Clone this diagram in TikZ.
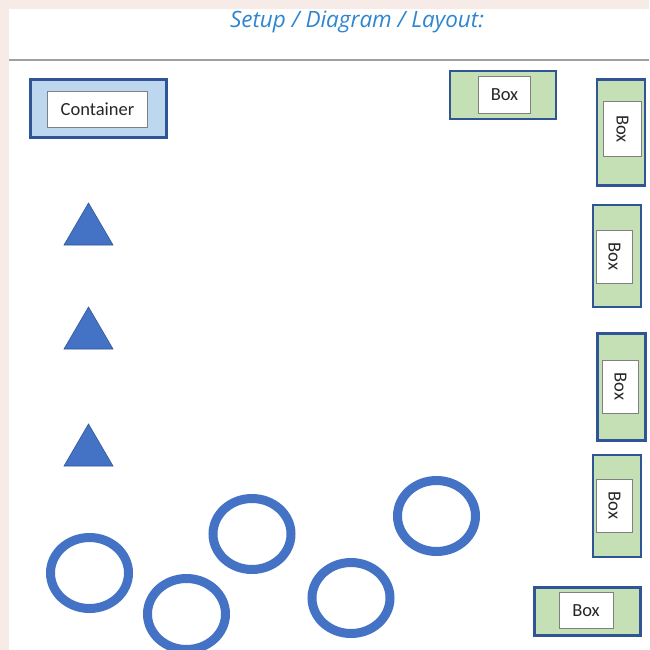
\documentclass[tikz,border=0pt]{standalone}
\usepackage{fontspec}
\setmainfont{Carlito}
\newfontfamily\titlefont{Open Sans}
\usetikzlibrary{positioning}

\definecolor{pagebg}{HTML}{F7EBE7}
\definecolor{edgeblue}{HTML}{2F5597}
\definecolor{shapeblue}{HTML}{4472C4}
\definecolor{boxgreen}{HTML}{C5E0B4}
\definecolor{contblue}{HTML}{BDD7EE}
\definecolor{titleblue}{HTML}{2E86D1}
\definecolor{rulegray}{HTML}{A0A0A0}

\begin{document}
\begin{tikzpicture}[
  x=1pt, y=-1pt, line join=miter,
  font=\fontsize{18.5}{20}\selectfont,
  outerbox/.style={rectangle, draw=edgeblue, line width=2.5pt, fill=boxgreen, inner sep=0pt},
  innerbox/.style={rectangle, draw=gray, line width=1pt, fill=white, inner sep=0pt, text=black!85},
  ring/.style={draw=shapeblue, line width=9pt},
  tri/.style={fill=shapeblue, draw=edgeblue, line width=0.6pt}
]

% page
\fill[pagebg] (0,0) rectangle (649,650);
\fill[white] (9,9) rectangle (649,650);
\useasboundingbox (0,0) rectangle (649,650);

\node[text=titleblue, font=\titlefont\fontsize{22.5}{24}\selectfont\itshape] (title) at (357,22) {Setup / Diagram / Layout:};
\coordinate (rule-l) at (9,60);
\coordinate (rule-r) at (649,60);
\draw[rulegray, line width=2pt] (rule-l) -- (rule-r);

% container
\node[outerbox, fill=contblue, minimum width=136, minimum height=58] (cont) at (98.5,108.5) {};
\node[innerbox, minimum width=100, minimum height=36] (cont-in) at (97.5,109.5) {Container};

% boxes
\node[outerbox, minimum width=106, minimum height=48] (b-top) at (503,95) {};
  \node[innerbox, minimum width=52, minimum height=37] (b-top-in) at (504.5,95) {Box};
\node[outerbox, minimum width=48, minimum height=106] (b-r1) at (621,132.5) {};
  \node[innerbox, rotate=-90, minimum width=54, minimum height=38] (b-r1-in) at (622.5,129) {Box};
\node[outerbox, minimum width=48, minimum height=102] (b-r2) at (617,256) {};
  \node[innerbox, rotate=-90, minimum width=53, minimum height=36] (b-r2-in) at (614.5,256.5) {Box};
\node[outerbox, minimum width=48, minimum height=107] (b-r3) at (621.5,387) {};
  \node[innerbox, rotate=-90, minimum width=53, minimum height=36] (b-r3-in) at (620.5,386.5) {Box};
\node[outerbox, minimum width=48, minimum height=102] (b-r4) at (617,506) {};
  \node[innerbox, rotate=-90, minimum width=53, minimum height=36] (b-r4-in) at (614.5,505.5) {Box};
\node[outerbox, minimum width=106, minimum height=48] (b-bot) at (587.5,611.5) {};
  \node[innerbox, minimum width=54, minimum height=36] (b-bot-in) at (586,610.5) {Box};

% triangles
\foreach \ty in {203,307,424}
  \draw[tri] (88.5,\ty) -- (113,\ty+42) -- (64,\ty+42) -- cycle;

% rings
\foreach \cx/\cy in {89.5/573, 186.5/614, 252/534, 351/598, 436.5/516}
  \draw[ring] (\cx,\cy) ellipse [x radius=39, y radius=35.5];
\end{tikzpicture}
\end{document}
